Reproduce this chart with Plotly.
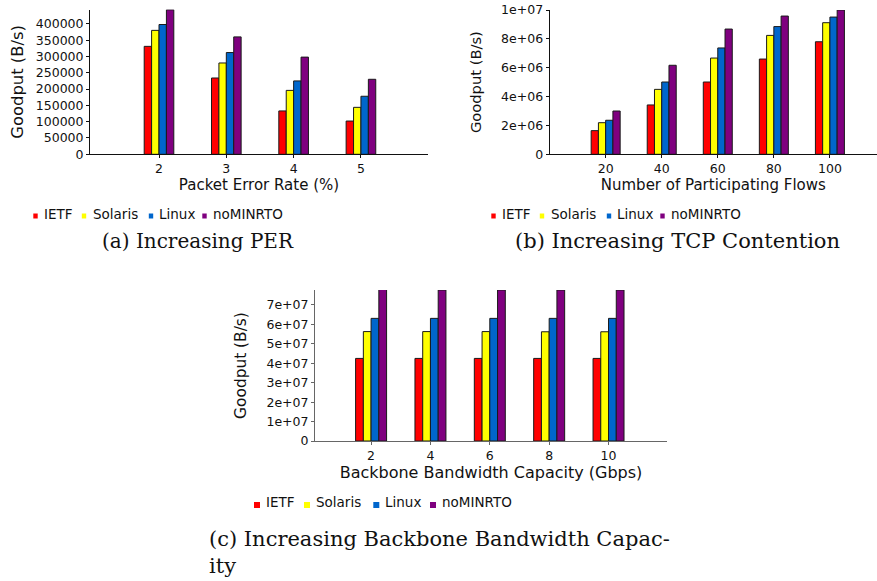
import plotly.graph_objects as go

W, H = 877, 581
def fx(p): return p / W
def fy(p): return 1 - p / H

series = ["IETF", "Solaris", "Linux", "noMINRTO"]
colors = ["#FF0000", "#FFFF00", "#0066CC", "#7F007F"]

# (a) Increasing PER
per = [2, 3, 4, 5]
per_ietf = [331000, 234000, 133000, 102000]
per_solaris = [380000, 280000, 196000, 144000]
per_linux = [398000, 312000, 225000, 178000]
per_nominrto = [443000, 360000, 298000, 230000]

# (b) Increasing TCP contention
flows = [20, 40, 60, 80, 100]
flows_ietf = [1.64e6, 3.42e6, 5.01e6, 6.60e6, 7.80e6]
flows_solaris = [2.19e6, 4.50e6, 6.67e6, 8.24e6, 9.12e6]
flows_linux = [2.36e6, 5.01e6, 7.37e6, 8.85e6, 9.51e6]
flows_nominrto = [3.00e6, 6.17e6, 8.68e6, 9.58e6, 1.00e7]

# (c) Increasing backbone bandwidth capacity
bw = [2, 4, 6, 8, 10]
bw_ietf = [4.25e7, 4.25e7, 4.25e7, 4.25e7, 4.25e7]
bw_solaris = [5.63e7, 5.63e7, 5.63e7, 5.62e7, 5.62e7]
bw_linux = [6.31e7, 6.31e7, 6.31e7, 6.31e7, 6.31e7]
bw_nominrto = [7.80e7, 7.77e7, 7.77e7, 7.77e7, 7.77e7]

ticks_a = [0, 50000, 100000, 150000, 200000, 250000, 300000, 350000, 400000]
ticktext_a = ["0", "50000", "100000", "150000", "200000", "250000", "300000", "350000", "400000"]
ticks_b = [0, 2e6, 4e6, 6e6, 8e6, 1e7]
ticktext_b = ["0", "2e+06", "4e+06", "6e+06", "8e+06", "1e+07"]
ticks_c = [0, 1e7, 2e7, 3e7, 4e7, 5e7, 6e7, 7e7]
ticktext_c = ["0", "1e+07", "2e+07", "3e+07", "4e+07", "5e+07", "6e+07", "7e+07"]

captions = ["(a) Increasing PER", "(b) Increasing TCP Contention",
            "(c) Increasing Backbone Bandwidth Capac-<br>ity"]

SANS = "DejaVu Sans"
SERIF = "DejaVu Serif"
TXT = "#111111"

fig = go.Figure()

panels = [
    (per, [per_ietf, per_solaris, per_linux, per_nominrto], "x", "y", 0.110),
    (flows, [flows_ietf, flows_solaris, flows_linux, flows_nominrto], "x2", "y2", 2.586),
    (bw, [bw_ietf, bw_solaris, bw_linux, bw_nominrto], "x3", "y3", 0.261),
]
for xs, ys_list, xa, ya, bwid in panels:
    for i, (name, col, ys) in enumerate(zip(series, colors, ys_list)):
        fig.add_trace(go.Bar(
            x=xs, y=ys, name=name, xaxis=xa, yaxis=ya,
            width=bwid, offset=(i - 2) * bwid,
            marker=dict(color=col, line=dict(color="#1a1a1a", width=1)),
            showlegend=False,
        ))

def xax(domain, rng, ticks, title, tsize, lc, anchor):
    return dict(domain=domain, range=rng, tickvals=ticks, ticktext=[str(t) for t in ticks],
                anchor=anchor, automargin=False,
                showgrid=False, zeroline=False, showline=True, linecolor=lc, linewidth=1,
                ticks="outside", ticklen=3, tickcolor=lc,
                tickfont=dict(family=SANS, size=12.5, color=TXT),
                title=dict(text=title, font=dict(family=SANS, size=tsize, color=TXT), standoff=2))

def yax(domain, rng, ticks, ticktext, anchor, tsize, lc, standoff):
    return dict(domain=domain, range=rng, tickvals=ticks, ticktext=ticktext, anchor=anchor,
                automargin=False,
                showgrid=False, zeroline=False, showline=True, linecolor=lc, linewidth=1,
                ticks="outside", ticklen=3, tickcolor=lc,
                tickfont=dict(family=SANS, size=12.5, color=TXT),
                title=dict(text="Goodput (B/s)", font=dict(family=SANS, size=tsize, color=TXT),
                           standoff=standoff))

fig.update_layout(
    width=W, height=H, margin=dict(l=0, r=0, t=0, b=0, autoexpand=False),
    paper_bgcolor="white", plot_bgcolor="white", barmode="overlay", showlegend=False,
    xaxis=xax([fx(90), fx(428)], [0.975, 5.996], per, "Packet Error Rate (%)", 15, "#111", "y"),
    yaxis=yax([fy(154.3), fy(9.5)], [0, 444000], ticks_a, ticktext_a, "x", 16.4, "#111", 8),
    xaxis2=xax([fx(549.6), 1.0], [0, 116.8], flows, "Number of Participating Flows", 15, "#111", "y2"),
    yaxis2=yax([fy(154.3), fy(10)], [0, 1e7], ticks_b, ticktext_b, "x2", 14.7, "#111", 15),
    xaxis3=xax([fx(315), fx(667)], [0.11, 11.97], bw, "Backbone Bandwidth Capacity (Gbps)", 16, "#666", "y3"),
    yaxis3=yax([fy(441), fy(290)], [0, 7.77e7], ticks_c, ticktext_c, "x3", 15.4, "#666", 16),
)

# manual legends (small square markers, tight spacing like the original)
legends = [
    ([35.5, 84, 151, 204.5], [43.3, 91.7, 158.3, 211.7], 4.4, 213.5, 218.5, 214),
    ([493.5, 542, 609, 662.5], [501.3, 549.7, 616.3, 669.7], 4.4, 213.5, 218.5, 214),
    ([257, 307, 376.3, 433], [265, 315, 384, 440.7], 6, 502, 508, 502),
]
shapes = []
annotations = []
for mx, tx, mw, my0, my1, ty in legends:
    for name, col, m, t in zip(series, colors, mx, tx):
        shapes.append(dict(type="rect", xref="paper", yref="paper",
                           x0=fx(m - mw / 2), x1=fx(m + mw / 2), y0=fy(my1), y1=fy(my0),
                           fillcolor=col, line=dict(width=0)))
        annotations.append(dict(text=name, xref="paper", yref="paper", x=fx(t - 1), y=fy(ty),
                                xanchor="left", yanchor="middle", showarrow=False,
                                font=dict(family=SANS, size=13.5, color=TXT)))

annotations.append(dict(text=captions[0], xref="paper", yref="paper", x=fx(198), y=fy(241),
                        xanchor="center", yanchor="middle", showarrow=False,
                        font=dict(family=SERIF, size=20, color=TXT)))
annotations.append(dict(text=captions[1], xref="paper", yref="paper", x=fx(677), y=fy(241),
                        xanchor="center", yanchor="middle", showarrow=False,
                        font=dict(family=SERIF, size=21, color=TXT)))
annotations.append(dict(text=captions[2], xref="paper", yref="paper", x=fx(207), y=fy(552),
                        xanchor="left", yanchor="middle", align="left", showarrow=False,
                        font=dict(family=SERIF, size=21, color=TXT)))

fig.update_layout(shapes=shapes, annotations=annotations)
fig.write_html("out.html", config={"displayModeBar": False},
               post_script="document.body.style.margin='0';document.body.style.padding='0';")
